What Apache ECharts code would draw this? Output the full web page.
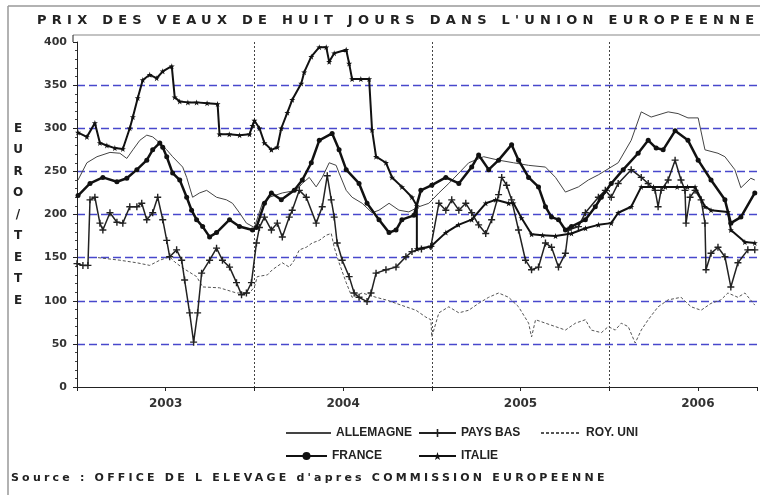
<!DOCTYPE html>
<html>
<head>
<meta charset="utf-8">
<title>Prix des veaux de huit jours</title>
<script src="https://cdn.jsdelivr.net/npm/echarts@6/dist/echarts.min.js"></script>
<style>
  html, body { margin: 0; padding: 0; background: #fff; }
  #wrap { position: relative; width: 760px; height: 495px; }
  #chart { position: absolute; left: 0; top: 0; width: 760px; height: 495px; }
  .txt { position: absolute; font-family: "DejaVu Sans", sans-serif; font-weight: bold; color: #222; white-space: nowrap; }
  #title { left: 37px; top: 12px; font-size: 13px; letter-spacing: 5.25px; }
  #source { left: 11px; top: 471px; font-size: 11px; letter-spacing: 3.2px; }
</style>
</head>
<body>
<div id="wrap">
  <div id="chart"></div>
  <div id="title" class="txt">PRIX DES VEAUX DE HUIT JOURS DANS L'UNION EUROPEENNE</div>
  <div id="source" class="txt">Source :  OFFICE DE L ELEVAGE d'apres COMMISSION EUROPEENNE</div>
</div>
<script>
// x = mois depuis janvier 2003, y = euro / tete
var years = ['2003', '2004', '2005', '2006'];

var allemagne = [
  [0.07,240],[0.67,260],[1.35,267],[2.23,272],[2.9,271],[3.37,265],[3.78,275],[4.25,286],[4.72,292],
  [5.12,290],[5.6,283],[6.07,275],[6.47,267],[7.15,255],[7.42,243],[7.82,220],[8.29,225],[8.77,228],
  [9.44,220],[10.11,217],[10.52,213],[10.99,202],[11.46,190],[12.0,185],[12.54,213],[13.01,220],
  [13.89,225],[14.83,228],[15.24,236],[15.71,243],[16.18,232],[16.59,243],[17.06,260],[17.53,257],
  [17.73,248],[18.21,228],[18.61,220],[19.29,213],[19.96,202],[20.43,205],[21.11,213],[21.78,205],
  [22.45,203],[23.13,209],[23.8,213],[24.48,225],[25.15,236],[25.83,248],[26.5,260],[27.51,267],
  [28.52,263],[29.53,260],[30.55,257],[31.69,255],[32.37,243],[33.04,226],[33.92,232],[34.59,240],
  [35.27,246],[36.61,260],[37.49,286],[38.17,319],[38.84,313],[39.99,319],[40.66,317],[41.33,312],
  [42.02,312],[42.48,275],[43.36,271],[43.83,267],[44.5,252],[44.91,231],[45.58,242],[45.85,240]
];

var paysBas = [
  [0.0,143],[0.4,141],[0.74,141],[0.88,217],[1.21,220],[1.55,190],[1.75,182],[2.23,202],[2.7,191],
  [3.1,190],[3.57,209],[4.05,209],[4.38,213],[4.72,194],[5.12,202],[5.46,220],[5.8,194],[6.07,170],
  [6.27,151],[6.74,159],[7.08,147],[7.28,124],[7.62,86],[7.89,52],[8.16,86],[8.43,132],[8.97,147],
  [9.44,161],[9.84,147],[10.32,139],[10.79,121],[11.13,107],[11.46,109],[11.8,121],[12.14,167],
  [12.34,185],[12.68,197],[13.15,182],[13.55,190],[13.89,174],[14.36,197],[14.56,205],[15.04,228],
  [15.51,220],[16.18,190],[16.59,209],[16.93,245],[17.2,217],[17.4,197],[17.6,167],[17.94,147],
  [18.41,128],[18.75,109],[19.08,104],[19.62,99],[19.89,109],[20.23,132],[20.9,136],[21.58,139],
  [22.25,151],[22.66,157],[23.3,160],[23.94,163],[24.48,213],[24.95,205],[25.35,217],[25.83,205],
  [26.3,213],[26.7,202],[27.17,188],[27.65,178],[28.05,194],[28.52,223],[28.73,243],[29.06,234],
  [29.4,217],[29.87,182],[30.34,147],[30.75,136],[31.22,139],[31.69,167],[32.1,162],[32.57,139],
  [33.04,155],[33.24,182],[33.92,186],[34.39,202],[35.27,220],[35.74,228],[36.14,220],[36.61,236],
  [37.49,252],[38.17,243],[38.64,236],[39.11,228],[39.31,209],[39.51,228],[39.99,240],[40.46,263],
  [40.86,240],[41.13,228],[41.2,190],[41.47,220],[41.81,228],[42.22,217],[42.48,190],[42.55,136],
  [42.89,155],[43.36,162],[43.83,151],[44.23,116],[44.71,144],[45.38,159],[45.85,159]
];

var royUni = [
  [1.42,150],[2.9,147],[4.05,144],[4.92,141],[5.6,147],[6.27,151],[6.61,145],[7.15,138],[8.09,128],
  [8.5,116],[9.64,115],[10.79,109],[11.67,109],[12.0,116],[12.2,128],[12.88,130],[13.22,136],
  [13.89,144],[14.36,139],[14.7,147],[15.04,159],[15.51,162],[15.91,167],[16.39,170],[16.86,176],
  [17.2,178],[17.4,162],[17.73,144],[18.21,121],[18.61,104],[19.29,109],[20.23,104],[20.9,101],
  [21.58,97],[22.25,93],[22.93,89],[23.6,81],[23.94,78],[24.0,58],[24.48,86],[25.15,93],[25.83,86],
  [26.5,89],[27.17,97],[27.85,104],[28.52,109],[29.2,104],[29.87,93],[30.55,74],[30.75,58],
  [31.02,78],[31.69,74],[32.37,70],[33.04,66],[33.72,74],[34.39,78],[34.79,66],[35.47,63],
  [35.94,70],[36.41,66],[36.82,74],[37.29,70],[37.76,51],[38.17,66],[38.64,78],[39.31,93],
  [39.99,101],[40.86,104],[41.54,93],[42.22,89],[42.89,97],[43.56,101],[44.03,109],[44.71,104],
  [45.18,109],[45.85,95]
];

var france = [
  [0.07,222],[0.88,236],[1.75,243],[2.7,238],[3.37,242],[4.05,252],[4.72,263],[5.12,275],[5.6,283],
  [5.8,278],[6.07,267],[6.47,248],[6.95,240],[7.42,220],[7.75,205],[8.09,194],[8.5,186],[8.97,174],
  [9.44,179],[10.32,194],[10.99,186],[11.87,182],[12.14,185],[12.68,213],[13.15,225],[13.82,217],
  [14.7,228],[15.24,240],[15.85,260],[16.39,286],[17.26,294],[17.73,275],[18.21,252],[19.08,236],
  [19.62,213],[20.43,194],[21.11,179],[21.58,182],[21.98,194],[22.79,199],[23.26,228],[24.0,234],
  [24.95,243],[25.83,236],[26.7,255],[27.17,269],[27.85,252],[28.52,263],[29.4,281],[29.87,263],
  [30.55,243],[31.22,232],[31.69,209],[32.1,197],[32.57,194],[33.04,182],[33.45,186],[34.39,194],
  [35.06,209],[35.47,220],[36.14,236],[36.95,252],[37.96,271],[38.64,286],[39.18,277],[39.65,275],
  [40.46,297],[41.33,286],[42.02,263],[42.89,240],[43.83,217],[44.23,190],[44.91,197],[45.85,225]
];

var italie = [
  [0.07,295],[0.67,290],[1.21,306],[1.55,283],[2.02,280],[2.56,277],[3.1,276],[3.57,300],[3.78,313],
  [4.11,335],[4.45,356],[4.92,362],[5.39,358],[5.8,366],[6.41,372],[6.61,336],[6.95,331],[7.5,330],
  [8.09,330],[8.8,329],[9.51,328],[9.64,293],[10.3,293],[11.0,292],[11.67,293],[11.87,303],
  [12.0,309],[12.34,300],[12.68,283],[13.15,275],[13.55,278],[13.82,300],[14.23,318],[14.56,333],
  [15.17,352],[15.37,365],[15.85,383],[16.39,394],[16.86,394],[17.06,377],[17.4,387],[18.21,391],
  [18.41,375],[18.61,357],[19.2,357],[19.76,357],[19.96,298],[20.23,267],[20.9,260],[21.31,243],
  [21.98,232],[22.66,220],[22.99,210],[22.99,160],[23.94,163],[24.95,179],[25.8,188],[26.7,194],
  [27.65,213],[28.32,217],[29.2,213],[29.53,213],[30.07,196],[30.75,177],[31.5,176],[32.37,175],
  [33.45,178],[34.4,184],[35.27,188],[36.14,190],[36.61,202],[37.49,209],[38.17,232],[39.0,232],
  [39.8,232],[40.6,232],[41.3,232],[41.81,232],[42.48,209],[42.89,205],[44.03,203],[44.23,182],
  [45.18,168],[45.85,167]
];

var plusIcon = 'path://M4 0H6V4H10V6H6V10H4V6H0V4H4Z';
var starIcon = 'path://M5 0L6.2 3.6H10L7 5.9L8.1 9.5L5 7.3L1.9 9.5L3 5.9L0 3.6H3.8Z';

var chart = echarts.init(document.getElementById('chart'), null, { renderer: 'canvas' });
var axisFont = { fontFamily: 'DejaVu Sans', fontWeight: 'bold', color: '#333' };
var legendText = { fontFamily: 'Liberation Sans', fontWeight: 'bold', fontSize: 12, color: '#222' };

function legendAt(name, left, top, width, hideSymbol) {
  var item = { name: name };
  if (hideSymbol) item.itemStyle = { opacity: 0 };
  return {
    data: [item], left: left, top: top, padding: 0, itemWidth: width, itemHeight: 10, itemGap: 5,
    textStyle: legendText, selectedMode: false
  };
}

chart.setOption({
  animation: false,
  backgroundColor: '#fff',
  grid: { left: 77, right: 1, top: 42, bottom: 108, containLabel: false },
  legend: [
    legendAt('ALLEMAGNE', 285, 427, 45, true),
    legendAt('PAYS BAS', 418, 427, 37, false),
    legendAt('ROY. UNI', 540, 427, 40, true),
    legendAt('FRANCE', 285, 450, 41, false),
    legendAt('ITALIE', 418, 450, 37, false)
  ],
  xAxis: [
    {
      type: 'value', min: 0, max: 46, interval: 6,
      axisLine: { show: true, lineStyle: { color: '#222', width: 1 } },
      axisTick: { show: true, length: 4, lineStyle: { color: '#222' } },
      axisLabel: Object.assign({
        fontSize: 12, margin: 11,
        formatter: function (v) {
          if (v % 12 === 6) return years[(v - 6) / 12] || '';
          return '';
        }
      }, axisFont),
      splitLine: { show: false }
    },
    {
      type: 'value', min: 0, max: 46, interval: 12,
      axisLine: { show: false }, axisTick: { show: false }, axisLabel: { show: false },
      splitLine: {
        show: true, showMinLine: true, showMaxLine: false,
        lineStyle: { color: '#444', width: 1, type: [2, 2] }
      }
    }
  ],
  yAxis: {
    type: 'value', min: 0, max: 400, interval: 50, offset: 4,
    name: 'E\nU\nR\nO\n/\nT\nE\nT\nE',
    nameLocation: 'middle', nameGap: 55, nameRotate: 0,
    nameTextStyle: {
      fontFamily: 'DejaVu Sans', fontWeight: 'bold', fontSize: 12, color: '#222',
      lineHeight: 21.5, align: 'center', verticalAlign: 'middle'
    },
    axisLine: { show: true, lineStyle: { color: '#222', width: 1 } },
    axisTick: { show: true, length: 4, lineStyle: { color: '#222' } },
    minorTick: { show: true, splitNumber: 5, length: 2, lineStyle: { color: '#444' } },
    axisLabel: Object.assign({ fontSize: 11, margin: 6 }, axisFont),
    splitLine: {
      show: true, showMinLine: false, showMaxLine: false,
      lineStyle: { color: '#4848cc', width: 1.3, type: [8, 4] }
    }
  },
  graphic: [
    { type: 'line', shape: { x1: 8, y1: 6, x2: 760, y2: 6 }, style: { stroke: '#999', lineWidth: 1.5 }, silent: true },
    { type: 'line', shape: { x1: 8, y1: 6, x2: 8, y2: 495 }, style: { stroke: '#999', lineWidth: 1.5 }, silent: true },
    { type: 'line', shape: { x1: 73, y1: 35, x2: 760, y2: 35 }, style: { stroke: '#888', lineWidth: 1.2 }, silent: true },
    { type: 'line', shape: { x1: 73, y1: 35, x2: 73, y2: 42 }, style: { stroke: '#222', lineWidth: 1 }, silent: true }
  ],
  series: [
    {
      name: 'ALLEMAGNE', type: 'line', data: allemagne, symbol: 'none',
      lineStyle: { color: '#444', width: 1 }, itemStyle: { color: '#444' }, z: 3
    },
    {
      name: 'ROY. UNI', type: 'line', data: royUni, symbol: 'none',
      lineStyle: { color: '#555', width: 1, type: [3, 2] }, itemStyle: { color: '#555' }, z: 3
    },
    {
      name: 'PAYS BAS', type: 'line', data: paysBas, symbol: plusIcon, symbolSize: 7,
      lineStyle: { color: '#222', width: 1.5 }, itemStyle: { color: '#222' }, z: 4
    },
    {
      name: 'FRANCE', type: 'line', data: france, symbol: 'circle', symbolSize: 5,
      lineStyle: { color: '#111', width: 2.5 }, itemStyle: { color: '#111' }, z: 5
    },
    {
      name: 'ITALIE', type: 'line', data: italie, symbol: starIcon, symbolSize: 6,
      lineStyle: { color: '#111', width: 2 }, itemStyle: { color: '#111' }, z: 5
    }
  ]
});
</script>
</body>
</html>
